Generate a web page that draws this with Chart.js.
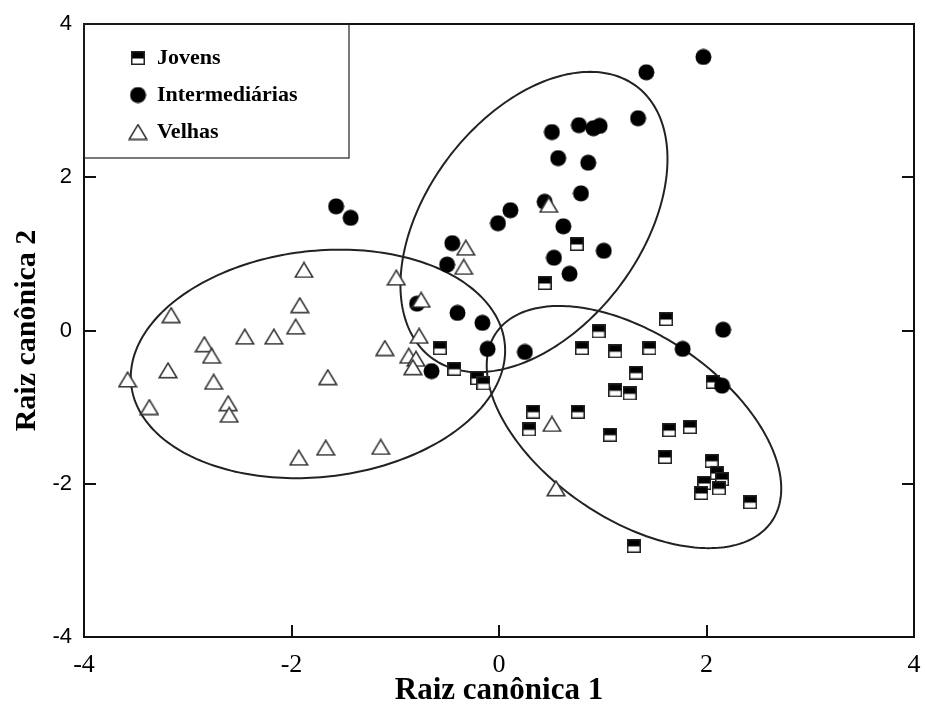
<!DOCTYPE html>
<html>
<head>
<meta charset="utf-8">
<script src="https://cdn.jsdelivr.net/npm/chart.js@4.4.1/dist/chart.umd.min.js"></script>
<style>
  html, body { margin: 0; padding: 0; background: #fff; }
  #wrap { width: 925px; height: 718px; position: relative; }
</style>
</head>
<body>
<div id="wrap"><canvas id="canonicalChart"></canvas></div>
<script>
// canonical scores per group
const jovensX = [0.75, 0.44, -0.57, -0.43, -0.21, -0.15, 1.61, 0.96, 0.80, 1.12, 1.45, 1.32, 1.12, 1.26, 2.06,
    0.33, 0.29, 0.76, 1.07, 1.64, 1.84, 1.60, 2.05, 2.10, 2.15, 2.12, 1.98, 1.95, 1.30, 2.42];
const jovensY = [1.13, 0.62, -0.23, -0.50, -0.62, -0.69, 0.15, -0.01, -0.23, -0.27, -0.23, -0.55, -0.78, -0.82, -0.67,
    -1.06, -1.29, -1.06, -1.36, -1.30, -1.26, -1.65, -1.70, -1.86, -1.94, -2.06, -1.99, -2.12, -2.81, -2.24];

const interX = [1.97, 1.42, 1.34, 0.51, 0.77, 0.91, 0.97, 0.57, 0.86, 0.79, 0.44, 0.11, -0.01, 0.62, 1.01,
    0.53, 0.68, -0.45, -0.50, -1.57, -1.43, -0.79, -0.40, -0.16, -0.11, -0.65, 0.25, 2.16, 1.77, 2.15];
const interY = [3.57, 3.37, 2.77, 2.59, 2.68, 2.64, 2.67, 2.25, 2.19, 1.79, 1.68, 1.57, 1.40, 1.36, 1.04,
    0.95, 0.74, 1.14, 0.86, 1.62, 1.47, 0.35, 0.23, 0.10, -0.24, -0.53, -0.28, 0.01, -0.24, -0.72];

const velhasX = [-1.88, -3.16, -1.92, -1.96, -2.45, -2.17, -2.84, -2.77, -3.58, -3.19, -2.75, -2.61, -2.60, -3.37, -1.93,
    -1.67, -1.65, -1.14, -1.10, -0.99, -0.75, -0.32, -0.34, -0.77, -0.87, -0.80, -0.83, 0.48, 0.51, 0.55];
const velhasY = [0.79, 0.20, 0.33, 0.05, -0.08, -0.08, -0.18, -0.33, -0.64, -0.52, -0.67, -0.95, -1.10, -1.00, -1.66,
    -1.53, -0.61, -1.52, -0.23, 0.69, 0.40, 1.08, 0.83, -0.07, -0.33, -0.37, -0.48, 1.64, -1.22, -2.06];

const groupLabels = ['Jovens', 'Intermediárias', 'Velhas'];
const axisTicks = [-4, -2, 0, 2, 4];

// group ellipses: centre and two conjugate semi-axes (data units)
const ellipseCenterX = [1.301, 0.337, -1.745];
const ellipseCenterY = [-1.260, 1.416, -0.436];
const ellipseAxisA = [[1.328, -1.231], [0.991, 1.768], [1.800, 0.273]];
const ellipseAxisB = [[-0.501, -0.991], [0.821, -0.845], [0.121, -1.466]];

function toPoints(xs, ys) {
    return xs.map((x, i) => ({ x: x, y: ys[i] }));
}

// marker images
function halfSquare() {
    const c = document.createElement('canvas');
    c.width = 14; c.height = 14;
    const g = c.getContext('2d');
    g.fillStyle = '#fff';
    g.fillRect(1, 1, 12, 12);
    g.fillStyle = '#000';
    g.fillRect(1, 1, 12, 6.5);
    g.strokeStyle = '#222';
    g.lineWidth = 1.5;
    g.strokeRect(0.75, 0.75, 12.5, 12.5);
    return c;
}

function dot() {
    const c = document.createElement('canvas');
    c.width = 17; c.height = 17;
    const g = c.getContext('2d');
    g.fillStyle = '#000';
    g.beginPath();
    g.arc(8.5, 8.5, 8, 0, Math.PI * 2);
    g.fill();
    return c;
}

function openTriangle() {
    const c = document.createElement('canvas');
    c.width = 20; c.height = 17;
    const g = c.getContext('2d');
    g.beginPath();
    g.moveTo(10, 1.2);
    g.lineTo(18.8, 15.8);
    g.lineTo(1.2, 15.8);
    g.closePath();
    g.fillStyle = '#fff';
    g.fill();
    g.strokeStyle = '#333';
    g.lineWidth = 1.6;
    g.stroke();
    return c;
}

const ellipses = {
    id: 'ellipses',
    beforeDatasetsDraw(chart) {
        const { ctx, chartArea, scales: { x, y } } = chart;
        ctx.save();
        ctx.beginPath();
        ctx.rect(chartArea.left, chartArea.top, chartArea.width, chartArea.height);
        ctx.clip();
        ctx.strokeStyle = '#222';
        ctx.lineWidth = 2;
        ellipseCenterX.forEach((cx, k) => {
            const cy = ellipseCenterY[k];
            const a = ellipseAxisA[k], b = ellipseAxisB[k];
            ctx.beginPath();
            for (let s = 0; s <= 240; s++) {
                const t = s / 240 * Math.PI * 2;
                const px = x.getPixelForValue(cx + a[0] * Math.cos(t) + b[0] * Math.sin(t));
                const py = y.getPixelForValue(cy + a[1] * Math.cos(t) + b[1] * Math.sin(t));
                if (s === 0) ctx.moveTo(px, py); else ctx.lineTo(px, py);
            }
            ctx.closePath();
            ctx.stroke();
        });
        ctx.restore();
    }
};

// legend sits in the upper-left corner of the plot, inside a thin box
const legendBox = {
    id: 'legendBox',
    afterLayout(chart) {
        const lg = chart.legend;
        lg.left = chart.chartArea.left + 31;
        lg.top = chart.chartArea.top + 8;
    },
    afterDraw(chart) {
        const { ctx, chartArea } = chart;
        ctx.save();
        ctx.strokeStyle = '#222';
        ctx.lineWidth = 1.2;
        ctx.strokeRect(chartArea.left, chartArea.top, 265, 134);
        ctx.restore();
    }
};

// fixed box sizes, no extra room for overhanging tick labels
function fixBox(size) {
    return (scale) => {
        if (scale.isHorizontal()) scale.height = size; else scale.width = size;
        scale.paddingLeft = 0;
        scale.paddingRight = 0;
        scale.paddingTop = 0;
        scale.paddingBottom = 0;
    };
}

Chart.defaults.font.family = '"Liberation Serif", "Times New Roman", serif';
Chart.defaults.color = '#000';

const frameBorder = { display: true, color: '#111', width: 2 };
const innerTicks = { display: true, drawOnChartArea: false, drawTicks: true, tickLength: -12, color: '#111', lineWidth: 2 };

new Chart(document.getElementById('canonicalChart'), {
    type: 'scatter',
    data: {
        datasets: [{
            label: groupLabels[0],
            data: toPoints(jovensX, jovensY),
            pointStyle: halfSquare(),
            pointRadius: 7,
            order: 2
        }, {
            label: groupLabels[1],
            data: toPoints(interX, interY),
            pointStyle: dot(),
            pointRadius: 8,
            order: 1
        }, {
            label: groupLabels[2],
            data: toPoints(velhasX, velhasY),
            pointStyle: openTriangle(),
            pointRadius: 9,
            order: 0
        }]
    },
    options: {
        responsive: true,
        maintainAspectRatio: false,
        animation: false,
        layout: { padding: 0 },
        plugins: {
            tooltip: { enabled: false },
            legend: {
                position: 'chartArea',
                align: 'start',
                labels: {
                    usePointStyle: true,
                    boxWidth: 16,
                    padding: 15,
                    color: '#000',
                    font: { size: 22, weight: 'bold' },
                    sort: (a, b) => a.datasetIndex - b.datasetIndex
                }
            }
        },
        scales: {
            x: {
                type: 'linear',
                position: 'bottom',
                min: -4,
                max: 4,
                afterBuildTicks: (scale) => { scale.ticks = axisTicks.map(v => ({ value: v })); },
                afterFit: fixBox(81),
                border: frameBorder,
                grid: innerTicks,
                ticks: { padding: 25, font: { size: 26 }, color: '#000', maxRotation: 0 },
                title: {
                    display: true,
                    text: 'Raiz canônica 1',
                    font: { size: 31, weight: 'bold' },
                    color: '#000',
                    padding: { top: 0, bottom: 8 }
                }
            },
            x2: {
                type: 'linear',
                position: 'top',
                min: -4,
                max: 4,
                afterFit: fixBox(24),
                border: frameBorder,
                grid: { display: false },
                ticks: { display: false }
            },
            y: {
                type: 'linear',
                position: 'left',
                min: -4,
                max: 4,
                afterBuildTicks: (scale) => { scale.ticks = axisTicks.map(v => ({ value: v })); },
                afterFit: fixBox(84),
                border: frameBorder,
                grid: innerTicks,
                ticks: {
                    padding: 24,
                    color: '#000',
                    font: { family: '"Liberation Sans", Arial, sans-serif', size: 22 }
                },
                title: {
                    display: true,
                    text: 'Raiz canônica 2',
                    font: { size: 30, weight: 'bold' },
                    color: '#000',
                    padding: { top: 9, bottom: 0 }
                }
            },
            y2: {
                type: 'linear',
                position: 'right',
                min: -4,
                max: 4,
                afterBuildTicks: (scale) => { scale.ticks = axisTicks.map(v => ({ value: v })); },
                afterFit: fixBox(11),
                border: frameBorder,
                grid: innerTicks,
                ticks: { display: false }
            }
        }
    },
    plugins: [ellipses, legendBox]
});
</script>
</body>
</html>
